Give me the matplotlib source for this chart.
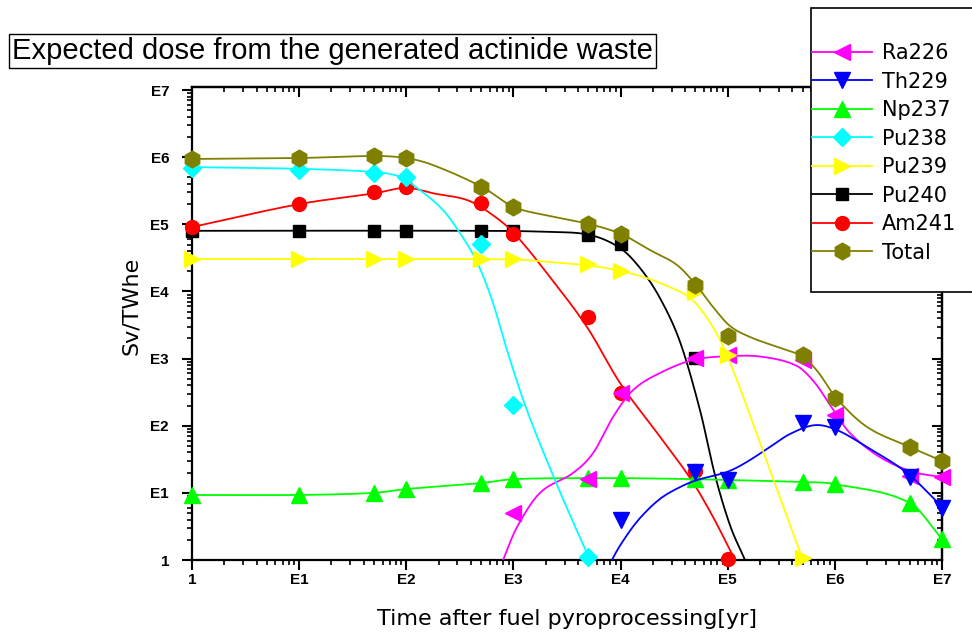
import numpy as np
import matplotlib
matplotlib.use('Agg')
import matplotlib.pyplot as plt
from matplotlib.ticker import LogLocator, FuncFormatter, NullFormatter
from matplotlib.lines import Line2D
from matplotlib.patches import Rectangle

# marker data (time in yr, dose in Sv/TWhe)
T = [1, 10, 50, 100, 500, 1e3, 5e3, 1e4, 5e4, 1e5, 5e5, 1e6, 5e6, 1e7]

ra226_t = [1e3, 5e3, 1e4, 5e4, 1e5, 5e5, 1e6, 5e6, 1e7]
ra226 = [5.0, 16, 310, 1020, 1130, 955, 145, 18, 17]
th229_t = [1e4, 5e4, 1e5, 5e5, 1e6, 5e6, 1e7]
th229 = [3.9, 20.5, 15.5, 110, 96, 17, 6.0]
np237_t = T
np237 = [9.3, 9.3, 10, 11.4, 14, 16, 16.6, 16.6, 16, 15.5, 14.5, 13.5, 7.1, 2.05]
pu238_t = [1, 10, 50, 100, 500, 1e3, 5e3]
pu238 = [6.9e5, 6.4e5, 5.8e5, 5.1e5, 5.1e4, 204, 1.1]
pu239_t = [1, 10, 50, 100, 500, 1e3, 5e3, 1e4, 5e4, 1e5, 5e5]
pu239 = [3.04e4, 3.04e4, 3.04e4, 3.04e4, 3.04e4, 3.04e4, 2.56e4, 2.0e4, 9.8e3, 1.13e3, 1.07]
pu240_t = [1, 10, 50, 100, 500, 1e3, 5e3, 1e4, 5e4]
pu240 = [8.0e4, 8.0e4, 8.0e4, 8.0e4, 8.0e4, 8.0e4, 6.9e4, 5.1e4, 1.02e3]
am241_t = [1, 10, 50, 100, 500, 1e3, 5e3, 1e4, 5e4, 1e5]
am241 = [9.1e4, 2.0e5, 3.0e5, 3.6e5, 2.1e5, 7.2e4, 4.2e3, 310, 21, 1.05]
total_t = T
total = [9.4e5, 9.7e5, 1.04e6, 9.7e5, 3.6e5, 1.8e5, 1.0e5, 7.2e4, 1.25e4, 2.2e3, 1.13e3, 258, 48, 30]

# knots
ra226_ct = [705, 800, 1080, 1770, 3600, 5530, 8500, 1.31e4, 2.33e4, 4.74e4, 1.05e5, 2.13e5,
            4.43e5, 6.53e5, 9.4e5, 1.38e6, 2.64e6, 5.37e6, 1e7]
ra226_cv = [0.6, 1.0, 3.1, 10, 19.8, 39, 135, 340, 610, 953, 1090, 1060,
            775, 433, 184, 78, 34, 20.5, 17.2]
th229_ct = [7310, 8320, 1.1e4, 1.52e4, 2.33e4, 3.59e4, 5.17e4, 9.85e4, 1.45e5, 2.48e5, 3.81e5,
            6.53e5, 1.05e6, 2.0e6, 4.72e6, 1e7]
th229_cv = [0.56, 1.0, 2.13, 4.22, 8.11, 12.2, 15.5, 20.5, 27.8, 48.2, 75.3, 102, 86, 48, 19.8, 6.2]
np237_ct = np237_t
np237_cv = np237
pu238_ct = [1, 10, 51, 87, 134, 220, 317, 457, 631, 871, 1282, 2190, 3600, 5190, 5900]
pu238_cv = [7.1e5, 6.7e5, 6.0e5, 5.1e5, 3.24e5, 1.63e5, 7.4e4, 2.74e4, 7.46e3, 1.34e3, 204, 23.5,
            3.68, 1.0, 0.56]
pu239_ct = [1, 100, 1000, 2190, 6430, 1.52e4, 2.89e4, 4.45e4, 6.14e4, 8.47e4, 1.17e5, 1.61e5,
            2.48e5, 3.81e5, 5.05e5, 5.6e5]
pu239_cv = [3.04e4, 3.04e4, 3.0e4, 2.74e4, 2.31e4, 1.70e4, 1.16e4, 7.98e3, 4.46e3, 1.89e3, 569, 144,
            21.9, 3.32, 1.0, 0.6]
pu240_ct = [1, 488, 2190, 5190, 9880, 1.52e4, 2.33e4, 3.59e4, 5.51e4, 7.6e4, 1.05e5, 1.45e5, 1.69e5]
pu240_cv = [8.0e4, 8.0e4, 7.7e4, 6.93e4, 4.44e4, 2.23e4, 7.98e3, 1.77e3, 171, 18.5, 3.3, 1.0, 0.56]
am241_ct = [1, 10, 51, 100, 177, 369, 604, 1010, 2190, 4860, 9880, 2.1e4, 4.45e4, 7.13e4,
            1.17e5, 1.45e5]
am241_cv = [9.1e4, 2.0e5, 2.9e5, 3.5e5, 2.9e5, 2.3e5, 1.47e5, 7.4e4, 1.64e4, 2950, 433, 86, 16.7,
            4.68, 1.0, 0.5]
total_ct = [1, 10, 51, 100, 177, 509, 1010, 2190, 5070, 1.01e4, 1.88e4, 3.36e4, 5.06e4, 7.29e4,
            1.05e5, 1.61e5, 3.08e5, 5.05e5, 6.97e5, 1.03e6, 2.0e6, 5.03e6, 1e7]
total_cv = [9.4e5, 9.7e5, 1.04e6, 9.7e5, 7.64e5, 3.6e5, 1.81e5, 1.33e5, 1.01e5, 7.17e4, 4.14e4,
            2.48e4, 1.25e4, 5.87e3, 3.06e3, 2.1e3, 1.44e3, 1.06e3, 631, 259, 95.7, 48.2, 29.8]


def smooth(t, v, n=40):
    # cubic hermite through the knots in log-log space
    x = np.log10(t)
    y = np.log10(v)
    m = np.empty_like(x)
    m[1:-1] = (y[2:] - y[:-2]) / (x[2:] - x[:-2])
    m[0] = (y[1] - y[0]) / (x[1] - x[0])
    m[-1] = (y[-1] - y[-2]) / (x[-1] - x[-2])
    s = np.linspace(0, 1, n)
    h00 = 2*s**3 - 3*s**2 + 1
    h10 = s**3 - 2*s**2 + s
    h01 = -2*s**3 + 3*s**2
    h11 = s**3 - s**2
    xs, ys = [], []
    for i in range(len(x) - 1):
        h = x[i+1] - x[i]
        xs.append(x[i] + s*h)
        ys.append(h00*y[i] + h10*h*m[i] + h01*y[i+1] + h11*h*m[i+1])
    return 10**np.concatenate(xs), 10**np.concatenate(ys)


series = [
    ('Ra226', '#ff00ff', '<', 11, ra226_t, ra226, ra226_ct, ra226_cv, 5),
    ('Th229', '#0000ff', 'v', 11, th229_t, th229, th229_ct, th229_cv, 6),
    ('Np237', '#00ff00', '^', 11, np237_t, np237, np237_ct, np237_cv, 4),
    ('Pu238', '#00ffff', 'D', 9, pu238_t, pu238, pu238_ct, pu238_cv, 7),
    ('Pu239', '#ffff00', '>', 11, pu239_t, pu239, pu239_ct, pu239_cv, 8),
    ('Pu240', '#000000', 's', 9, pu240_t, pu240, pu240_ct, pu240_cv, 2),
    ('Am241', '#ff0000', 'o', 10, am241_t, am241, am241_ct, am241_cv, 3),
    ('Total', '#808000', 'h', 12, total_t, total, total_ct, total_cv, 9),
]

fig = plt.figure(figsize=(9.72, 6.35), dpi=100)
ax = fig.add_axes([192/972, 75/635, 750/972, 473/635])
ax.set_xscale('log')
ax.set_yscale('log')
ax.set_xlim(1, 1e7)
ax.set_ylim(1, 10**7.045)

handles = []
for name, col, mk, ms, mt, mv, ct, cv, z in series:
    xs, ys = smooth(ct, cv)
    ax.plot(xs, ys, color=col, lw=1.3, zorder=z)
    ax.plot(mt, mv, ls='none', marker=mk, ms=ms, color=col, mec=col, zorder=z + 0.5, clip_on=False)
    handles.append(Line2D([], [], color=col, lw=1.3, marker=mk, ms=ms, mec=col))


def efmt(v, pos):
    if v < 1.5:
        return '1'
    return 'E%d' % round(np.log10(v))


for axis in (ax.xaxis, ax.yaxis):
    axis.set_major_locator(LogLocator(base=10, numticks=20))
    axis.set_minor_locator(LogLocator(base=10, subs=np.arange(2, 10), numticks=20))
    axis.set_major_formatter(FuncFormatter(efmt))
    axis.set_minor_formatter(NullFormatter())

ax.tick_params(which='major', direction='out', length=7.5, width=1.5, labelsize=11)
ax.tick_params(which='minor', direction='out', length=3.5, width=1.2)
ax.tick_params(axis='x', which='major', pad=2)
ax.tick_params(axis='y', which='major', pad=9)
for lab in ax.get_xticklabels() + ax.get_yticklabels():
    lab.set_fontweight('bold')
    lab.set_family('Liberation Sans')
for sp in ax.spines.values():
    sp.set_linewidth(1.6)

top = ax.secondary_xaxis('top')
right = ax.secondary_yaxis('right')
for sec, axis in ((top, top.xaxis), (right, right.yaxis)):
    axis.set_major_locator(LogLocator(base=10, numticks=20))
    axis.set_minor_locator(LogLocator(base=10, subs=np.arange(2, 10), numticks=20))
    axis.set_major_formatter(NullFormatter())
    axis.set_minor_formatter(NullFormatter())
    sec.tick_params(which='major', direction='in', length=7.5, width=1.5)
    sec.tick_params(which='minor', direction='in', length=3.5, width=1.2)
    for sp in sec.spines.values():
        sp.set_linewidth(1.6)

ax.set_xlabel('Time after fuel pyroprocessing[yr]', fontsize=16, labelpad=16)
ax.set_ylabel('Sv/TWhe', fontsize=16)
ax.yaxis.set_label_coords(-0.068, 0.537)

fig.text(12/972, 1 - 51/635, 'Expected dose from the generated actinide waste',
         fontsize=21, family='Liberation Sans', va='center', ha='left',
         bbox=dict(boxstyle='square,pad=0.1', fc='white', ec='black', lw=1.0))

fig.add_artist(Rectangle((811/972, 1 - 292/635), 0.3, 284/635, transform=fig.transFigure,
                         fill=True, fc='white', ec='black', lw=1.2, zorder=10))
leg = fig.legend(handles, [s[0] for s in series], loc='upper left',
                 bbox_to_anchor=(812/972, 1 - 43/635), frameon=False, borderpad=0,
                 borderaxespad=0, handlelength=2.9, handletextpad=0.45, labelspacing=0.41,
                 fontsize=15)
leg.set_zorder(11)

fig.savefig('out.png', dpi=100)
